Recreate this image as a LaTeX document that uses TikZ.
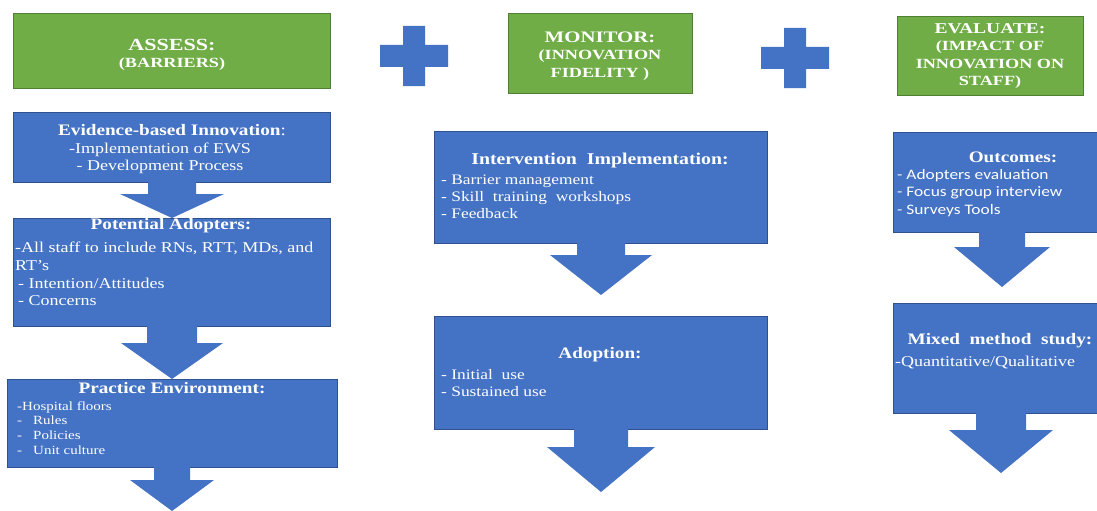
\documentclass[tikz,border=0pt]{standalone}
\usepackage{fontspec}
\setmainfont{Liberation Serif}[FakeStretch=1.2]
\newfontfamily\calfont{Carlito}[FakeStretch=1.2]
\newfontfamily\hdrfont{Liberation Serif}[FakeStretch=1.3]
\definecolor{grn}{HTML}{70AD47}
\definecolor{grnb}{HTML}{507E32}
\definecolor{blu}{HTML}{4472C4}
\definecolor{blub}{HTML}{2F528F}
\begin{document}
\begin{tikzpicture}[x=1pt,y=-1pt,
  greenbox/.style={draw=grnb, line width=0.8pt, fill=grn, anchor=north west, inner sep=0},
  bluebox/.style={draw=blub, line width=0.6pt, fill=blu, anchor=north west, inner sep=0},
  hdr/.style={text=white, font=\hdrfont\fontsize{14}{17.5}\selectfont\bfseries, align=center, inner sep=0},
  ttl/.style={text=white, font=\fontsize{16}{18}\selectfont\bfseries, inner sep=0},
  itm/.style={text=white, font=\fontsize{15}{17.5}\selectfont, align=left, inner sep=0, anchor=north west},
  pics/downarrow/.style n args={4}{code={\fill[blu] (-#1,0) -- (#1,0) -- (#1,#3) -- (#2,#3) -- (0,#4) -- (-#2,#3) -- (-#1,#3) -- cycle;}},
  pics/plussign/.style={code={\fill[blu] (-11,-30) -- (11,-30) -- (11,-11) -- (34,-11) -- (34,11) -- (11,11) -- (11,30) -- (-11,30) -- (-11,11) -- (-34,11) -- (-34,-11) -- (-11,-11) -- cycle;}}
]
\useasboundingbox (0,0) rectangle (1097,511);
\fill[white] (0,0) rectangle (1097,511);
\clip (0,0) rectangle (1097,511);

% green headers
\node[greenbox, minimum width=317pt, minimum height=75pt] (g1) at (13,13) {};
\node[greenbox, minimum width=184pt, minimum height=80pt] (g2) at (508,13) {};
\node[greenbox, minimum width=186pt, minimum height=79pt] (g3) at (897,16) {};
\node[hdr] (h1) at (172,55) {{\fontsize{17}{17}\selectfont ASSESS:}\\(BARRIERS)};
\node[hdr] (h2) at (600,56) {{\fontsize{16}{17}\selectfont MONITOR:}\\(INNOVATION\\FIDELITY )};
\node[hdr] (h3) at (990,56) {{\fontsize{15}{17}\selectfont EVALUATE:}\\(IMPACT OF\\INNOVATION ON\\STAFF)};
\pic at (414,56) {plussign};
\pic at (795,58) {plussign};

% column 1
\node[bluebox, minimum width=317pt, minimum height=70pt] (b1) at (13,112) {};
\node[bluebox, minimum width=317pt, minimum height=108pt] (b2) at (13,218) {};
\node[bluebox, minimum width=330pt, minimum height=88pt] (b3) at (7,379) {};
\pic at (172,182) {downarrow={24}{52}{12}{36}};
\pic at (172,326) {downarrow={25}{51}{17}{53}};
\pic at (172,467) {downarrow={18}{42}{13}{44}};
\node[ttl] (t1) at (172,130) {Evidence-based Innovation{\mdseries:}};
\node[text=white, font=\fontsize{15}{17}\selectfont, align=center, inner sep=0] (i1) at (160,158) {-Implementation of EWS\\- Development Process};
\node[ttl] (t2) at (171,226) {Potential Adopters:};
\node[itm, font=\fontsize{15}{17.7}\selectfont] (i2) at (15,242) {-All staff to include RNs, RTT, MDs, and\\RT’s\\\hspace{3pt}- Intention/Attitudes\\\hspace{3pt}- Concerns};
\node[ttl] (t3) at (172,388) {Practice Environment:};
\node[itm, font=\fontsize{12.5}{14.7}\selectfont] (i3) at (17,401) {-Hospital floors\\\makebox[16pt][l]{-}Rules\\\makebox[16pt][l]{-}Policies\\\makebox[16pt][l]{-}Unit culture};

% column 2
\node[bluebox, minimum width=333pt, minimum height=112pt] (c1) at (434,131) {};
\node[bluebox, minimum width=333pt, minimum height=113pt] (c2) at (434,316) {};
\pic at (601,243) {downarrow={24}{51}{12}{52}};
\pic at (601,429) {downarrow={27}{54}{18}{63}};
\node[ttl, font=\fontsize{16.5}{18}\selectfont\bfseries] (t4) at (600,161) {Intervention\ \ Implementation:};
\node[itm, font=\fontsize{14.5}{17}\selectfont] (i4) at (441,175) {- Barrier management\\- Skill\ \ training\ \ workshops\\- Feedback};
\node[ttl] (t5) at (600,355) {Adoption:};
\node[itm, font=\fontsize{14.5}{17}\selectfont] (i5) at (441,369) {- Initial\ \ use\\- Sustained use};

% column 3
\node[bluebox, minimum width=215pt, minimum height=100pt] (d1) at (893,132) {};
\node[bluebox, minimum width=215pt, minimum height=110pt] (d2) at (893,303) {};
\pic at (1002,232) {downarrow={23}{48}{15}{55}};
\pic at (1001,413) {downarrow={25}{52}{17}{60}};
\node[ttl] (t6) at (1013,157) {Outcomes:};
\node[itm, font=\calfont\fontsize{14.5}{17.5}\selectfont] (i6) at (897,169) {- Adopters evaluation\\- Focus group interview\\- Surveys Tools};
\node[ttl] (t7) at (1000,341) {Mixed\ \ method\ \ study:};
\node[itm] (i7) at (895,356) {-Quantitative/Qualitative};
\end{tikzpicture}
\end{document}
